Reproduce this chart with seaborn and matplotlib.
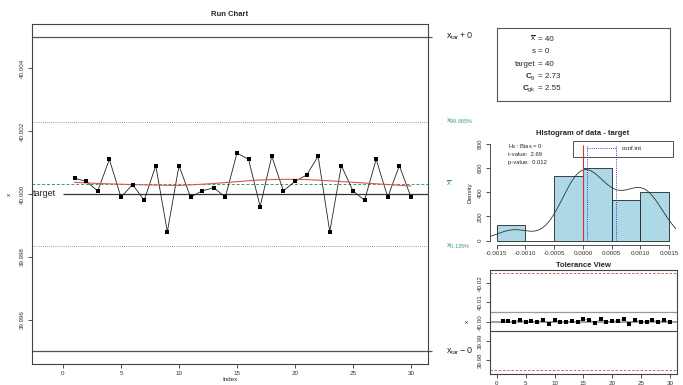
import numpy as np
import pandas as pd
import matplotlib
matplotlib.use("Agg")
import matplotlib.pyplot as plt
import seaborn as sns
from matplotlib.patches import Rectangle

index = list(range(1, 31))
values = [40.0005, 40.0004, 40.0001, 40.0011, 39.9999, 40.0003, 39.9998, 40.0009, 39.9988, 40.0009,
          39.9999, 40.0001, 40.0002, 39.9999, 40.0013, 40.0011, 39.9996, 40.0012, 40.0001, 40.0004,
          40.0006, 40.0012, 39.9988, 40.0009, 40.0001, 39.9998, 40.0011, 39.9999, 40.0009, 39.9999]
target = 40.0
tol_half = 0.025      # tolerance / 2
k_half = 0.005        # 10% of tolerance (x_tar +/- ...)
t_crit = 2.045        # t(0.975, 29)

stat_labels = [r"$\overline{\mathrm{x}}$", "s", "target", r"$\mathbf{C}_{\mathrm{g}}$", r"$\mathbf{C}_{\mathrm{gk}}$"]
stat_values = ["= 40", "= 0", "= 40", "= 2.73", "= 2.55"]
test_lines = [r"$\mathrm{H_0}$ : Bias = 0", "t-value:  2.69", "p-value:  0.012"]

hist_ticks = [-0.0015, -0.0010, -0.0005, 0.0, 0.0005, 0.0010, 0.0015]
hist_ticklabels = ["-0.0015", "-0.0010", "-0.0005", "0.0000", "0.0005", "0.0010", "0.0015"]

sns.set_style("white")
plt.rcParams["font.family"] = ["Liberation Sans", "DejaVu Sans"]
plt.rcParams["mathtext.fontset"] = "custom"
plt.rcParams["mathtext.rm"] = "Liberation Sans"
plt.rcParams["mathtext.bf"] = "Liberation Sans:bold"
plt.rcParams["mathtext.it"] = "Liberation Sans:italic"

W, H = 683, 385
fig = plt.figure(figsize=(W / 100, H / 100), dpi=100)


def px_axes(x0, y0, x1, y1):
    return fig.add_axes([x0 / W, 1 - y1 / H, (x1 - x0) / W, (y1 - y0) / H])


def lowess(x, y, f=2 / 3, iters=3):
    # plain lowess smoother (like R's lowess)
    x = np.asarray(x, float)
    y = np.asarray(y, float)
    n = len(x)
    r = int(np.ceil(f * n))
    h = np.array([np.sort(np.abs(x - x[i]))[r - 1] for i in range(n)])
    w = np.clip(np.abs((x[:, None] - x[None, :]) / h), 0, 1)
    w = (1 - w ** 3) ** 3
    yest = np.zeros(n)
    delta = np.ones(n)
    for _ in range(iters + 1):
        for i in range(n):
            wt = delta * w[:, i]
            A = np.array([[wt.sum(), (wt * x).sum()], [(wt * x).sum(), (wt * x * x).sum()]])
            b = np.array([(wt * y).sum(), (wt * y * x).sum()])
            beta = np.linalg.solve(A, b)
            yest[i] = beta[0] + beta[1] * x[i]
        res = y - yest
        s = np.median(np.abs(res))
        d = np.clip(res / (6 * s), -1, 1)
        delta = (1 - d ** 2) ** 2
    return yest


df = pd.DataFrame({"Index": index, "x": values})
df["diff"] = df["x"] - target
mean = df["x"].mean()
sd = df["x"].std()
green = "#3f9a6a"
tick_fs = 4.5


def style_ticks(ax):
    ax.tick_params(axis="both", direction="out", length=3, width=0.6, colors="#333333",
                   labelsize=tick_fs, pad=2, left=True, bottom=True)
    for lab in ax.get_yticklabels():
        lab.set_rotation(90)
        lab.set_va("center")


# ---------------- Run chart ----------------
ax = px_axes(32, 24, 428, 364)
xl = (-2.67, 31.47)
ax.set_xlim(*xl)
ax.set_ylim(39.9946, 40.0054)
for sp in ax.spines.values():
    sp.set_color("#444444")
    sp.set_linewidth(0.8)

ax.hlines([target + k_half, target - k_half], xl[0], 31.8, color="#555555", lw=0.9, clip_on=False)
ax.hlines(target, 0, xl[1], color="#333333", lw=0.9)
ax.text(-2.55, target, "target", fontsize=6.5, va="center", ha="left")
ax.axhline(mean + 3 * sd, color=green, lw=0.6, ls=(0, (1, 1.5)))
ax.axhline(mean - 3 * sd, color=green, lw=0.6, ls=(0, (1, 1.5)))
ax.hlines(mean, xl[0], 31.6, color=green, lw=0.7, ls=(0, (3, 2)), clip_on=False)

sns.lineplot(data=df, x="Index", y="x", ax=ax, color="#222222", lw=0.6)
sns.scatterplot(data=df, x="Index", y="x", ax=ax, color="black", s=6, marker="s",
                linewidth=0, zorder=3)
df["smooth"] = lowess(df["Index"], df["x"])
sns.lineplot(data=df, x="Index", y="smooth", ax=ax, color="#d9545a", lw=0.8)

ax.set_xticks([0, 5, 10, 15, 20, 25, 30])
ax.set_yticks([39.996, 39.998, 40.000, 40.002, 40.004])
ax.set_yticklabels(["39.996", "39.998", "40.000", "40.002", "40.004"])
style_ticks(ax)
ax.set_xlabel("")
ax.set_ylabel("x", fontsize=4.5, labelpad=6)
ax.set_title("Run Chart", fontsize=5.5, fontweight="bold", pad=6)
fig.text(230 / W, 1 - 379.5 / H, "Index", fontsize=4.5, ha="center", va="center")

lab_x = 33.0
ax.text(lab_x, target + k_half, r"$\mathrm{x}_{\mathrm{tar}}+0$", fontsize=6.5, va="center", clip_on=False)
ax.text(lab_x, target - k_half, r"$\mathrm{x}_{\mathrm{tar}}-0$", fontsize=6.5, va="center", clip_on=False)
ax.text(lab_x, mean + 3 * sd, r"$\mathrm{x}_{99.865\%}$", fontsize=5.5, va="center", color=green, clip_on=False)
ax.text(lab_x, mean - 3 * sd, r"$\mathrm{x}_{0.135\%}$", fontsize=5.5, va="center", color=green, clip_on=False)
ax.text(lab_x, mean, r"$\overline{\mathrm{x}}$", fontsize=5.5, va="center", color=green, clip_on=False)

# ---------------- stats box ----------------
bx = px_axes(497, 28, 670, 101)
bx.set_xticks([])
bx.set_yticks([])
for sp in bx.spines.values():
    sp.set_color("#555555")
    sp.set_linewidth(0.8)
for i, (lab, val) in enumerate(zip(stat_labels, stat_values)):
    yy = 39.3 + i * 12.4
    fig.text(535.5 / W, 1 - yy / H, lab, fontsize=5.8, ha="right", va="center")
    fig.text(538 / W, 1 - yy / H, val, fontsize=5.8, ha="left", va="center")

# ---------------- histogram ----------------
hx = px_axes(489.8, 140.2, 676, 244.5)
edges = np.arange(-0.0015, 0.00151, 0.0005) + 1e-9
sns.histplot(x=df["diff"], bins=edges, stat="density", ax=hx, color="#add8e6",
             edgecolor="#222222", linewidth=0.6, alpha=1)
diff = df["diff"].to_numpy()
iqr = np.subtract(*np.percentile(diff, [75, 25]))
bw = 0.9 * min(diff.std(ddof=1), iqr / 1.34) * len(diff) ** -0.2
sns.kdeplot(x=diff, ax=hx, bw_method=bw / diff.std(ddof=1), cut=3, color="#333333", lw=0.6)
ci_lo = diff.mean() - t_crit * diff.std(ddof=1) / np.sqrt(len(diff))
ci_hi = diff.mean() + t_crit * diff.std(ddof=1) / np.sqrt(len(diff))
hx.vlines(0, 0, 790, color="#cc3333", lw=0.8)
hx.vlines([ci_lo, ci_hi], 0, 780, color="#3344cc", lw=0.7, ls=(0, (1, 1.2)))
hx.hlines(765, ci_lo, ci_hi, color="#3344cc", lw=0.7, ls=(0, (1, 1.2)))
hx.set_xlim(-0.00162, 0.00162)
hx.set_ylim(-32, 832)
hx.set_xticks(hist_ticks)
hx.set_xticklabels(hist_ticklabels)
hx.set_yticks([0, 200, 400, 600, 800])
style_ticks(hx)
hx.spines["top"].set_visible(False)
hx.spines["right"].set_visible(False)
hx.spines["left"].set_bounds(0, 800)
hx.spines["bottom"].set_bounds(-0.0015, 0.0015)
for sp in ("left", "bottom"):
    hx.spines[sp].set_color("#333333")
    hx.spines[sp].set_linewidth(0.6)
hx.set_xlabel("")
hx.set_ylabel("Density", fontsize=4.5, labelpad=4)
hx.set_title("Histogram of data - target", fontsize=5.5, fontweight="bold", pad=4)
for i, t in enumerate(test_lines):
    hx.text(0.1, 0.94 - i * 0.078, t, transform=hx.transAxes, fontsize=4.2, va="center")
hx.add_patch(Rectangle((0.447, 0.842), 0.537, 0.153, transform=hx.transAxes, fill=False,
                       edgecolor="#333333", lw=0.6, clip_on=False))
hx.text(0.71, 0.918, "conf.int", transform=hx.transAxes, fontsize=4.5, va="center")
fig.text(583 / W, 1 - 265.5 / H, "Tolerance View", fontsize=5.5, fontweight="bold", ha="center", va="center")

# ---------------- tolerance view ----------------
tx = px_axes(490, 269.5, 676.7, 374)
tx.set_xlim(-1.2, 31.2)
tx.set_ylim(target - 0.027, target + 0.027)
tx.axhline(target + tol_half, color="#dd4444", lw=0.6, ls=(0, (3, 2)))
tx.axhline(target - tol_half, color="#dd4444", lw=0.6, ls=(0, (3, 2)))
tx.axhline(target + k_half, color="#999999", lw=0.9)
tx.axhline(target, color="#999999", lw=1.3)
tx.axhline(target - k_half, color="#444444", lw=0.8)
sns.lineplot(data=df, x="Index", y="x", ax=tx, color="#777777", lw=0.4)
sns.scatterplot(data=df, x="Index", y="x", ax=tx, color="black", s=6, marker="s",
                linewidth=0, zorder=3)
tx.set_xticks([0, 5, 10, 15, 20, 25, 30])
tx.set_yticks([39.98, 39.99, 40.00, 40.01, 40.02])
tx.set_yticklabels(["39.98", "39.99", "40.00", "40.01", "40.02"])
style_ticks(tx)
for sp in tx.spines.values():
    sp.set_color("#444444")
    sp.set_linewidth(0.8)
tx.set_xlabel("")
tx.set_ylabel("x", fontsize=4.5, labelpad=6)

fig.savefig("out.png", dpi=100)
